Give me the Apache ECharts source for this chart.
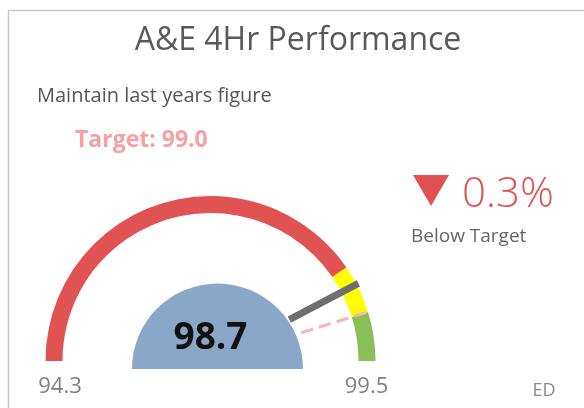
<!DOCTYPE html>
<html>
<head>
<meta charset="utf-8">
<script src="https://cdn.jsdelivr.net/npm/echarts@6/dist/echarts.min.js"></script>
<style>
html,body{margin:0;padding:0;background:#fff;}
#chart{width:584px;height:408px;}
</style>
</head>
<body>
<div id="chart"></div>
<script>
// ---- data ----
const gaugeRange = [94.3, 99.5];
const bandLimits = [98.5, 99.0, 99.5];
const bandColors = ['#e15252', '#ffff00', '#88c057'];
const actualValue = [98.7];
const targetValue = [99.0];
const tickLabels = ['94.3', '99.5'];
const titleText = 'A&E 4Hr Performance';
const subtitleText = 'Maintain last years figure';
const sideLabel = 'ED';

const FONT = '"Open Sans", sans-serif';
const min = gaugeRange[0], max = gaugeRange[1];
const stops = bandLimits.map((b, i) => [(b - min) / (max - min), bandColors[i]]);
const diff = (targetValue[0] - actualValue[0]);
const diffText = Math.abs(diff).toFixed(1) + '%';
const statusText = diff > 0 ? 'Below Target' : 'Above Target';

const center = [210.5, 361];
const R = 165;

const chart = echarts.init(document.getElementById('chart'), null, {renderer: 'canvas'});

const hidden = {
  splitLine: {show: false}, axisTick: {show: false}, axisLabel: {show: false},
  title: {show: false}, anchor: {show: false}
};

chart.setOption({
  animation: false,
  backgroundColor: '#fff',
  graphic: [
    {type: 'rect', z: -10, shape: {x: 8.5, y: 10.5, width: 620, height: 420},
     style: {fill: 'none', stroke: '#c8c8c8', lineWidth: 1.5}},
    {type: 'text', x: 298, y: 41, style: {text: titleText, font: '32px ' + FONT, fill: '#595959', align: 'center', verticalAlign: 'middle'}},
    {type: 'text', x: 37, y: 96, style: {text: subtitleText, font: '20px ' + FONT, fill: '#555', align: 'left', verticalAlign: 'middle'}},
    {type: 'text', x: 75, y: 140, style: {text: 'Target: ' + targetValue[0].toFixed(1), font: 'bold 23px ' + FONT, fill: '#f7a0a0', align: 'left', verticalAlign: 'middle'}},
    {type: 'polygon', shape: {points: [[413, 175], [449, 175], [431, 206]]}, style: {fill: '#e05252'}},
    {type: 'text', x: 462, y: 195, style: {text: diffText, font: '300 42px ' + FONT, fill: '#e05252', align: 'left', verticalAlign: 'middle'}},
    {type: 'text', x: 411, y: 237, style: {text: statusText, font: '19px ' + FONT, fill: '#666', align: 'left', verticalAlign: 'middle'}},
    {type: 'text', x: 60, y: 387, style: {text: tickLabels[0], font: '22px ' + FONT, fill: '#808080', align: 'center', verticalAlign: 'middle'}},
    {type: 'text', x: 366.5, y: 387, style: {text: tickLabels[1], font: '22px ' + FONT, fill: '#808080', align: 'center', verticalAlign: 'middle'}},
    {type: 'text', x: 544, y: 391, style: {text: sideLabel, font: '18px ' + FONT, fill: '#888', align: 'center', verticalAlign: 'middle'}}
  ],
  series: [
    // blue centre half disc with value
    Object.assign({}, hidden, {
      type: 'gauge', center: [217.5, 369], radius: 85.5,
      startAngle: 180, endAngle: 0, min: min, max: max,
      axisLine: {lineStyle: {width: 85.5, color: [[1, '#8aa7c8']]}},
      pointer: {show: false},
      detail: {show: true, offsetCenter: [-7, -31], formatter: v => v.toFixed(1),
               fontSize: 37, fontWeight: 'bold', color: '#111', fontFamily: FONT},
      data: [{value: actualValue[0]}]
    }),
    // coloured bands + needle
    Object.assign({}, hidden, {
      type: 'gauge', center: center, radius: R,
      startAngle: 180, endAngle: 0, min: min, max: max,
      axisLine: {lineStyle: {width: 17, color: stops}},
      pointer: {show: true, icon: 'rect', width: 7, length: 78, offsetCenter: [0, -89]},
      itemStyle: {color: '#6e6e6e'},
      detail: {show: false},
      data: [{value: actualValue[0]}]
    }),
    // target dashed line
    Object.assign({}, hidden, {
      type: 'gauge', center: center, radius: R,
      startAngle: 180, endAngle: 0, min: min, max: max,
      axisLine: {show: false},
      pointer: {show: true,
        icon: 'path://M0,0h1v12h-1z M0,18h1v12h-1z M0,36h1v12h-1z M0,54h1v12h-1z',
        width: 3, length: 68, offsetCenter: [0, -95]},
      itemStyle: {color: '#f7b4b4'},
      detail: {show: false},
      data: [{value: targetValue[0]}]
    })
  ]
});
</script>
</body>
</html>
